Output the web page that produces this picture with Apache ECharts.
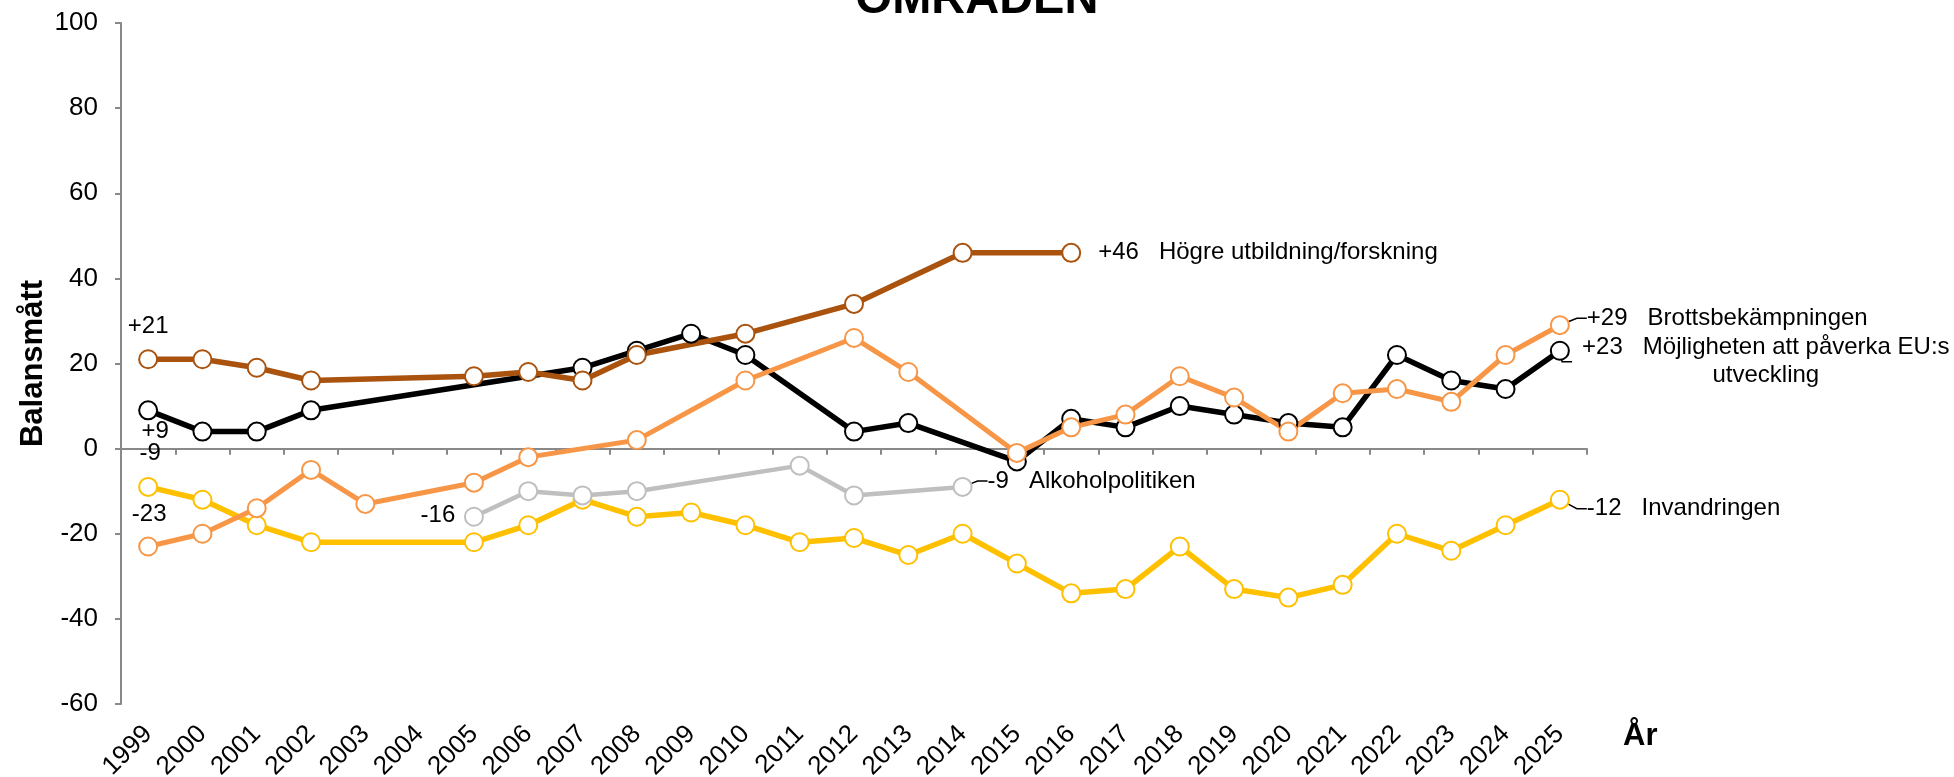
<!DOCTYPE html>
<html>
<head>
<meta charset="utf-8">
<title>Balansmått</title>
<script src="https://cdn.jsdelivr.net/npm/echarts@6/dist/echarts.min.js"></script>
<style>
  html, body { margin: 0; padding: 0; background: #fff; }
  #chart { width: 1954px; height: 777px; }
</style>
</head>
<body>
<div id="chart"></div>
<script>
const years = ['1999', '2000', '2001', '2002', '2003', '2004', '2005', '2006', '2007', '2008',
  '2009', '2010', '2011', '2012', '2013', '2014', '2015', '2016', '2017', '2018',
  '2019', '2020', '2021', '2022', '2023', '2024', '2025'];

const hogreUtbildning = [21, 21, 19, 16, null, null, 17, 18, 16, 22, null, 27, null, 34, null, 46, null, 46,
  null, null, null, null, null, null, null, null, null];
const paverkaEU = [9, 4, 4, 9, null, null, null, null, 19, 23, 27, 22, null, 4, 6, null, -3, 7,
  5, 10, 8, 6, 5, 22, 16, 14, 23];
const brottsbekampning = [-23, -20, -14, -5, -13, null, -8, -2, null, 2, null, 16, null, 26, 18, null, -1, 5,
  8, 17, 12, 4, 13, 14, 11, 22, 29];
const alkoholpolitik = [null, null, null, null, null, null, -16, -10, -11, -10, null, null, -4, -11, null, -9, null, null,
  null, null, null, null, null, null, null, null, null];
const invandring = [-9, -12, -18, -22, null, null, -22, -18, -12, -16, -15, -18, -22, -21, -25, -20, -27, -34,
  -33, -23, -33, -35, -32, -20, -24, -18, -12];

const yTicks = { min: -60, max: 100, interval: 20 };
const FONT = '"Liberation Sans", Arial, sans-serif';

const fmt = v => (v > 0 ? '+' : '') + v;
const firstIdx = arr => arr.findIndex(v => v != null);
const lastIdx = arr => {
  for (let i = arr.length - 1; i >= 0; i--) if (arr[i] != null) return i;
  return -1;
};

// kort hänvisningslinje från sista punkten till etiketten
const leader = { show: true, length2: 10, lineStyle: { color: '#000', width: 1.5 } };

function makeSeries(name, endText, values, color, width, startLabel, endLabel) {
  const f = firstIdx(values);
  const l = lastIdx(values);
  const data = values.map((v, i) => {
    if (v == null) return null;
    const item = { value: v };
    if (i === f) {
      item.label = Object.assign({ show: true, formatter: fmt(v), position: 'inside' }, startLabel);
    }
    if (i === l) {
      item.label = Object.assign({ show: true, formatter: fmt(v) + '   ' + endText, position: 'inside' }, endLabel.label);
      if (endLabel.line) item.labelLine = leader;
    }
    return item;
  });
  return {
    name: name,
    type: 'line',
    data: data,
    connectNulls: true,
    showAllSymbol: true,
    symbol: 'circle',
    symbolSize: 18,
    lineStyle: { color: color, width: width },
    itemStyle: { color: '#fff', borderColor: color, borderWidth: 2 },
    label: { show: false, color: '#000', fontSize: 24, fontFamily: FONT },
    emphasis: { disabled: true }
  };
}

const chart = echarts.init(document.getElementById('chart'));
chart.setOption({
  animation: false,
  backgroundColor: '#fff',
  title: {
    text: 'OMRÅDEN',
    left: 'center',
    top: -28,
    textStyle: { fontSize: 47, fontWeight: 'bold', color: '#000', fontFamily: FONT }
  },
  grid: { left: 121, right: 367, top: 23, bottom: 73, containLabel: false, outerBoundsMode: 'none' },
  xAxis: [
    {
      type: 'category',
      data: years,
      boundaryGap: true,
      axisLine: { onZero: true, lineStyle: { color: '#898989', width: 2 } },
      axisTick: { show: true, interval: 0, length: 6, lineStyle: { color: '#898989', width: 2 } },
      axisLabel: { show: false },
      splitLine: { show: false }
    },
    {
      // osynlig axel längst ner, bär årtalen och axelnamnet
      type: 'category',
      data: years,
      position: 'bottom',
      offset: 32,
      boundaryGap: true,
      axisLine: { show: false, onZero: false },
      axisTick: { show: false },
      axisLabel: { interval: 0, rotate: 45, margin: -6, fontSize: 26, color: '#000', fontFamily: FONT },
      splitLine: { show: false },
      name: 'År',
      nameLocation: 'end',
      nameGap: 36,
      nameTextStyle: { fontSize: 31, fontWeight: 'bold', color: '#000', fontFamily: FONT }
    }
  ],
  yAxis: {
    type: 'value',
    min: yTicks.min,
    max: yTicks.max,
    interval: yTicks.interval,
    name: 'Balansmått',
    nameLocation: 'middle',
    nameGap: 72,
    nameMoveOverlap: false,
    nameTextStyle: { fontSize: 31, fontWeight: 'bold', color: '#000', fontFamily: FONT },
    axisLine: { show: true, lineStyle: { color: '#898989', width: 2 } },
    axisTick: { show: true, length: 6, lineStyle: { color: '#898989', width: 2 } },
    axisLabel: { margin: 23, fontSize: 26, color: '#000', fontFamily: FONT },
    splitLine: { show: false }
  },
  series: [
    makeSeries('Invandringen', 'Invandringen', invandring, '#FFC000', 5.5,
      { offset: [2, -34] },
      { label: { align: 'left', verticalAlign: 'top', padding: [0, 0, 0, 10], offset: [17, -3] }, line: true }),
    makeSeries('Alkoholpolitiken', 'Alkoholpolitiken', alkoholpolitik, '#BFBFBF', 4.5,
      { offset: [-36, -1] },
      { label: { align: 'left', verticalAlign: 'top', padding: [0, 0, 0, 9], offset: [16, -18] }, line: true }),
    makeSeries('Möjligheten att påverka EU:s utveckling', 'Möjligheten att påverka EU:s\nutveckling', paverkaEU, '#000000', 5.5,
      { offset: [7, 21] },
      { label: { align: 'center', verticalAlign: 'top', lineHeight: 28, padding: [0, 0, 0, 10], offset: [201, -17] }, line: true }),
    makeSeries('Brottsbekämpningen', 'Brottsbekämpningen', brottsbekampning, '#F79646', 5,
      { offset: [1, -32] },
      { label: { align: 'left', verticalAlign: 'top', padding: [0, 0, 0, 10], offset: [17, -19] }, line: true }),
    makeSeries('Högre utbildning/forskning', 'Högre utbildning/forskning', hogreUtbildning, '#A9530F', 5.5,
      { offset: [0, -33] },
      { label: { align: 'left', offset: [27, 0] }, line: false })
  ]
});
window.addEventListener('resize', function () {
  chart.resize();
});
</script>
</body>
</html>
